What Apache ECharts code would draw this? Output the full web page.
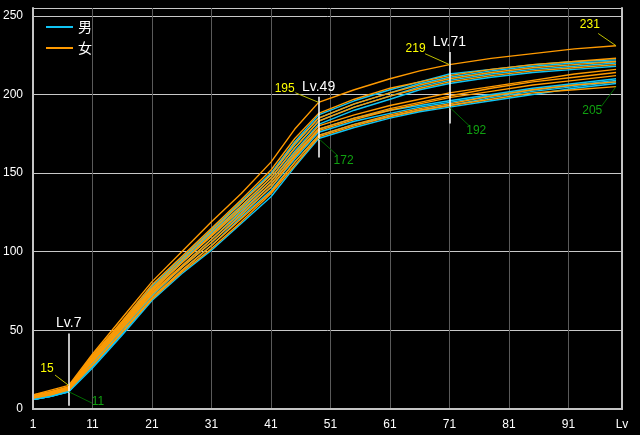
<!DOCTYPE html>
<html><head><meta charset="utf-8">
<script src="https://cdn.jsdelivr.net/npm/echarts@6/dist/echarts.min.js"></script>
<style>html,body{margin:0;padding:0;background:#000}#c{width:640px;height:435px}</style>
</head><body><div id="c"></div>
<script>
// ---- data ----
const levels = [1,4,7,11,16,21,26,31,36,41,45,49,55,61,66,71,78,85,92,99];

const male1 = [7,9,12,33,55,78,96,114,132,150,170,187,196,203,208,213,216,219,221,222];
const male2 = [6,9,12,32,54,77,95,113,131,149,168,185,194,201,207,211,215,218,220,221];
const male3 = [7,9,12,31,53,76,94,112,129,147,166,183,192,199,205,209,213,216,218,220];
const male4 = [6,8,11,30,52,75,93,110,128,145,164,181,190,197,203,207,211,214,216,218];
const male5 = [6,8,11,29,51,73,91,108,126,143,162,178,185,190,193,196,200,204,207,210];
const male6 = [6,8,12,29,50,72,90,106,124,141,159,176,183,188,192,195,199,203,206,209];
const male7 = [7,9,12,27,48,70,88,104,122,139,157,174,181,186,190,193,198,202,205,208];
const male8 = [6,8,11,26,47,69,86,101,118,135,154,172,179,185,189,192,196,200,204,207];

const female1 = [9,12,15,35,58,81,100,119,137,157,178,195,203,210,215,219,223,226,229,231];
const female2 = [9,11,14,34,56,79,97,115,133,152,172,188,197,204,208,212,216,219,221,223];
const female3 = [8,11,14,33,55,77,95,113,131,149,169,185,194,201,206,210,214,217,219,221];
const female4 = [8,10,13,31,53,75,93,111,129,147,166,183,192,199,204,208,212,215,217,219];
const female5 = [8,10,14,32,54,76,93,110,127,145,163,180,187,193,197,201,205,209,213,216];
const female6 = [7,10,13,30,52,74,91,108,125,143,161,178,185,191,195,199,204,208,211,214];
const female7 = [7,9,13,30,51,73,90,106,123,141,160,177,184,190,194,198,202,206,209,212];
const female8 = [7,9,12,28,49,71,88,104,121,138,157,174,181,187,191,194,199,203,206,208];
const female9 = [8,10,13,28,49,70,87,102,119,137,155,173,180,186,190,193,197,201,203,205];

const maleSeries = [male1,male2,male3,male4,male5,male6,male7,male8];
const femaleSeries = [female1,female2,female3,female4,female5,female6,female7,female8,female9];

const legendNames = ['男','女'];
const markLevels = [7,49,71];
const markLabels = ['Lv.7','Lv.49','Lv.71'];
const extremeLevels = [7,49,71,99];
const maxValues = [15,195,219,231];
const minValues = [11,172,192,205];

// ---- layout (data-space offsets for annotations) ----
const vLineSpan = [[2,48],[160,198.5],[181.5,227]];
const maxLeader = [[-2.3,6.6],[-3.9,6.1],[-4.1,6.9],[-3.0,7.8]];
const maxText   = [[-3.65,10.4],[-5.7,8.7],[-5.7,10],[-4.4,13.3]];
const minLeader = [[3.9,-7.2],[3.2,-10.8],[3.3,-11.8],[-2.5,-12.7]];
const minText   = [[4.9,-6.6],[4.2,-14],[4.5,-15],[-4.0,-15.3]];

const MALE = '#10c4f4', FEMALE = '#ff9a00';

const series = [];
const n = Math.max(maleSeries.length, femaleSeries.length);
for (let i = 0; i < n; i++) {
  if (maleSeries[i]) series.push({
    name: legendNames[0], type: 'line', symbol: 'none', color: MALE,
    lineStyle: { width: 1.4, color: MALE }, z: 2,
    data: levels.map((l, k) => [l, maleSeries[i][k]])
  });
  if (femaleSeries[i]) series.push({
    name: legendNames[1], type: 'line', symbol: 'none', color: FEMALE,
    lineStyle: { width: 1.4, color: FEMALE }, z: 2,
    data: levels.map((l, k) => [l, femaleSeries[i][k]])
  });
}

const lineData = [];
markLevels.forEach((lv, i) => {
  lineData.push([
    { coord: [lv, vLineSpan[i][0]],
      lineStyle: { color: '#ffffff', width: 1.5, type: 'solid' },
      label: { show: true, position: 'end', formatter: markLabels[i], color: '#ffffff',
        fontSize: 14, fontFamily: 'Liberation Sans', distance: 3 } },
    { coord: [lv, vLineSpan[i][1]] }
  ]);
});
const pointData = [];
extremeLevels.forEach((lv, i) => {
  const mx = maxValues[i], mn = minValues[i];
  lineData.push([
    { coord: [lv, mx], lineStyle: { color: '#c0c000', width: 1, type: 'solid' }, label: { show: false } },
    { coord: [lv + maxLeader[i][0], mx + maxLeader[i][1]] }
  ]);
  lineData.push([
    { coord: [lv, mn], lineStyle: { color: '#006a00', width: 1, type: 'solid' }, label: { show: false } },
    { coord: [lv + minLeader[i][0], mn + minLeader[i][1]] }
  ]);
  pointData.push({ coord: [lv + maxText[i][0], mx + maxText[i][1]], value: mx,
    label: { color: '#ffff00' } });
  pointData.push({ coord: [lv + minText[i][0], mn + minText[i][1]], value: mn,
    label: { color: '#10a010' } });
});

series.push({
  name: 'ann', type: 'line', data: [], z: 5,
  markLine: { silent: true, symbol: ['none','none'], animation: false,
    lineStyle: { type: 'solid' }, label: { show: false }, data: lineData },
  markPoint: { silent: true, symbol: 'circle', symbolSize: 0, animation: false,
    label: { show: true, position: 'inside', formatter: '{c}', fontSize: 12, fontFamily: 'Liberation Sans' },
    data: pointData }
});

const chart = echarts.init(document.getElementById('c'), null, { renderer: 'canvas' });
chart.setOption({
  backgroundColor: '#000000',
  animation: false,
  grid: { left: 33, right: 18, top: 8, bottom: 26, show: false },
  legend: {
    data: legendNames, orient: 'vertical', left: 41, top: 15,
    icon: 'rect', itemWidth: 27, itemHeight: 2, itemGap: 7,
    textStyle: { color: '#ffffff', fontSize: 14, lineHeight: 14, fontFamily: 'Noto Sans CJK JP' }
  },
  xAxis: [{
    type: 'value', min: 1, max: 100, interval: 10,
    axisLine: { show: false }, axisTick: { show: false },
    axisLabel: { color: '#ffffff', fontSize: 12, fontFamily: 'Liberation Sans', margin: 10,
      formatter: v => v === 100 ? 'Lv' : String(v) },
    splitLine: { show: true, lineStyle: { color: '#5a5a5a', width: 1 } }
  }, {
    type: 'value', position: 'top', min: 1, max: 100, z: 6,
    axisLine: { show: true, lineStyle: { color: '#c4c4c4', width: 2 } },
    axisTick: { show: false }, axisLabel: { show: false }, splitLine: { show: false }
  }, {
    type: 'value', position: 'bottom', min: 1, max: 100, z: 6,
    axisLine: { show: true, lineStyle: { color: '#c4c4c4', width: 2 } },
    axisTick: { show: false }, axisLabel: { show: false }, splitLine: { show: false }
  }],
  yAxis: [{
    type: 'value', min: 0, max: 255, interval: 50,
    axisLine: { show: false }, axisTick: { show: false },
    axisLabel: { color: '#ffffff', fontSize: 12, fontFamily: 'Liberation Sans', margin: 10,
      formatter: v => (v % 50 === 0 ? String(v) : '') },
    splitLine: { show: true, lineStyle: { color: '#c8c8c8', width: 1 } }
  }, {
    type: 'value', position: 'left', min: 0, max: 255, z: 6,
    axisLine: { show: true, lineStyle: { color: '#c4c4c4', width: 2 } },
    axisTick: { show: false }, axisLabel: { show: false }, splitLine: { show: false }
  }, {
    type: 'value', position: 'right', min: 0, max: 255, z: 6,
    axisLine: { show: true, lineStyle: { color: '#c4c4c4', width: 2 } },
    axisTick: { show: false }, axisLabel: { show: false }, splitLine: { show: false }
  }],
  series: series
});
</script>
</body></html>
